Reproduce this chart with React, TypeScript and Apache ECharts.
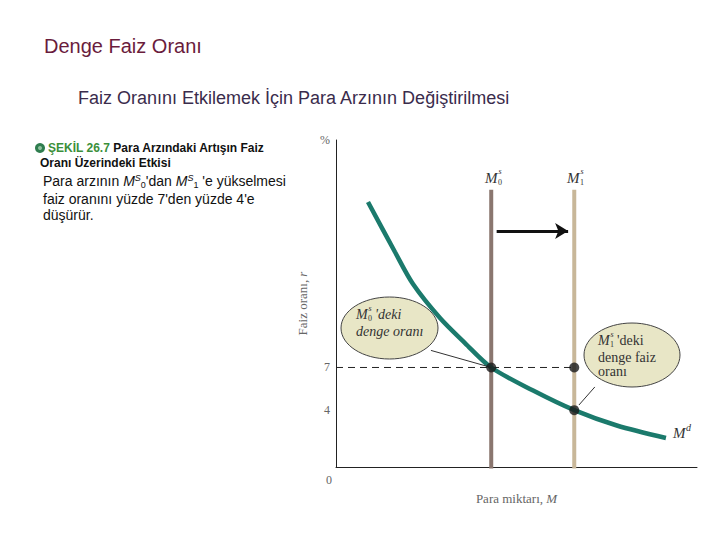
import { useEffect, useRef } from "react";
import * as echarts from "echarts";

// ---- data ----
const demandX = [8.86, 16.34, 21.33, 28.81, 35.73, 43, 54.6, 66, 77.8, 91.4];
const demandY = [18.64, 15.12, 12.87, 10.48, 8.72, 7, 5.38, 4, 2.92, 2.04];
const supplyX = [43, 66]; // M0s, M1s
const supplyTop = 19.5;
const rateBefore = 7;
const rateAfter = 4;
const yTickValues = [4, 7];
const arrowFrom = [44.5, 16.6];
const arrowTo = [64.3, 16.6];
const pointer1 = [[26.3, 8.2], [43, 7]];
const pointer2 = [[71.7, 5.63], [67.3, 4.36]];

const SERIF = "'Liberation Serif', 'DejaVu Serif', serif";
const SANS = "'Liberation Sans', Arial, sans-serif";

function txt(x: number, y: number, text: string, o: any = {}) {
  return {
    type: "text",
    x,
    y,
    z: 10,
    style: {
      text,
      fontFamily: o.ff || SERIF,
      fontSize: o.fs || 14,
      fontStyle: o.it ? "italic" : "normal",
      fontWeight: o.bold ? "bold" : "normal",
      fill: o.fill || "#222",
      align: o.align || "left",
      verticalAlign: "middle",
      rich: o.rich,
    },
  };
}

function mLabel(x: number, y: number, sub: string, sup: string, fs: number, mw: number, italicM = true, fill = "#333") {
  const small = Math.round(fs * 0.55);
  return [
    txt(x, y, "M", { fs, it: italicM, fill }),
    txt(x + mw, y + fs * 0.3, sub, { fs: small, fill }),
    txt(x + mw + 0.5, y - fs * 0.42, sup, { fs: small, it: true, fill }),
  ];
}

export default function App() {
  const ref = useRef<HTMLDivElement>(null);
  useEffect(() => {
    if (!ref.current) return;
    const chart = echarts.init(ref.current, undefined, { renderer: "svg" });
    const demand = demandX.map((x, i) => [x, demandY[i]]);
    const option: any = {
      animation: false,
      grid: { left: 336, top: 140, right: 23, bottom: 73 },
      xAxis: {
        type: "value",
        min: 0,
        max: 100,
        splitLine: { show: false },
        axisTick: { show: false },
        axisLine: { lineStyle: { color: "#222", width: 1 } },
        axisLabel: {
          customValues: [0],
          formatter: () => "0",
          align: "right",
          padding: [0, 4, 0, 0],
          margin: 7,
          fontFamily: SERIF,
          fontSize: 12,
          color: "#666",
        },
        name: "{a|Para miktarı, }{b|M}",
        nameLocation: "middle",
        nameGap: 25,
        nameTextStyle: {
          rich: {
            a: { fontFamily: SERIF, fontSize: 13, color: "#666" },
            b: { fontFamily: SERIF, fontSize: 13, color: "#666", fontStyle: "italic" },
          },
        },
      },
      yAxis: {
        type: "value",
        min: 0,
        max: 23,
        splitLine: { show: false },
        axisTick: { show: false },
        axisLine: { lineStyle: { color: "#222", width: 1 } },
        axisLabel: {
          customValues: [...yTickValues, 23],
          formatter: (v: number) => (v === 23 ? "%" : String(v)),
          margin: 6,
          fontFamily: SERIF,
          fontSize: 12,
          color: "#666",
        },
        name: "{a|Faiz oranı, }{b|r}",
        nameLocation: "middle",
        nameGap: 16,
        nameTextStyle: {
          rich: {
            a: { fontFamily: SERIF, fontSize: 13, color: "#666" },
            b: { fontFamily: SERIF, fontSize: 13, color: "#666", fontStyle: "italic" },
          },
        },
      },
      series: [
        {
          type: "line",
          data: [[0, rateBefore], [supplyX[1], rateBefore]],
          symbol: "none",
          lineStyle: { color: "#222", width: 1, type: [7, 5] },
          z: 2,
          silent: true,
          markLine: {
            silent: true,
            symbol: ["none", "arrow"],
            symbolSize: [12, 13],
            label: { show: false },
            lineStyle: { color: "#111", width: 3, type: "solid" },
            data: [[{ coord: arrowFrom }, { coord: arrowTo }]],
          },
        },
        {
          type: "line",
          data: [[supplyX[0], -0.1], [supplyX[0], supplyTop]],
          symbol: "none",
          clip: false,
          lineStyle: { color: "#8a766f", width: 4 },
          z: 3,
        },
        {
          type: "line",
          data: [[supplyX[1], -0.1], [supplyX[1], supplyTop]],
          symbol: "none",
          clip: false,
          lineStyle: { color: "#c8b799", width: 4 },
          z: 3,
        },
        {
          type: "line",
          data: demand,
          smooth: 0.3,
          symbol: "none",
          lineStyle: { color: "#1b7a6c", width: 4.5 },
          z: 4,
        },
        {
          type: "line",
          data: pointer1,
          symbol: "none",
          lineStyle: { color: "#333", width: 1 },
          z: 5,
        },
        {
          type: "line",
          data: pointer2,
          symbol: "none",
          lineStyle: { color: "#333", width: 1 },
          z: 5,
        },
        {
          type: "scatter",
          data: [[supplyX[0], rateBefore], [supplyX[1], rateBefore], [supplyX[1], rateAfter]],
          symbolSize: 10,
          itemStyle: { color: "#1a1a1a" },
          z: 6,
        },
      ],
      graphic: [
        txt(44, 46, "Denge Faiz Oranı", { ff: SANS, fs: 20, fill: "#6a1c3c" }),
        txt(78, 98, "Faiz Oranını Etkilemek İçin Para Arzının Değiştirilmesi", { ff: SANS, fs: 18, fill: "#3a2c4c" }),
        {
          type: "circle",
          shape: { cx: 40, cy: 148, r: 5 },
          style: { fill: "#2f7d4f" },
        },
        {
          type: "circle",
          shape: { cx: 40, cy: 148, r: 2 },
          style: { fill: "#8fc29f" },
          z: 2,
        },
        txt(48, 148, "{g|ŞEKİL 26.7} Para Arzındaki Artışın Faiz", {
          ff: SANS,
          fs: 12,
          bold: true,
          fill: "#111",
          rich: { g: { fontFamily: SANS, fontSize: 12, fontWeight: "bold", fill: "#3b8f3b", color: "#3b8f3b" } },
        }),
        txt(40, 163, "Oranı Üzerindeki Etkisi", { ff: SANS, fs: 12, bold: true, fill: "#111" }),
        txt(43, 181, "Para arzının {i|M}{sup|S}{sub|0}'dan {i|M}{sup|S}{sub|1} 'e yükselmesi", {
          ff: SANS,
          fs: 14,
          fill: "#111",
          rich: {
            i: { fontFamily: SANS, fontSize: 14, fontStyle: "italic", lineHeight: 16 },
            sup: { fontFamily: SANS, fontSize: 9, fontStyle: "italic", verticalAlign: "top", lineHeight: 10 },
            sub: { fontFamily: SANS, fontSize: 9, verticalAlign: "bottom", lineHeight: 9 },
          },
        }),
        txt(43, 199, "faiz oranını yüzde 7'den yüzde 4'e", { ff: SANS, fs: 14, fill: "#111" }),
        txt(43, 215, "düşürür.", { ff: SANS, fs: 14, fill: "#111" }),

        // top supply labels
        ...mLabel(485, 178, "0", "s", 15, 13),
        ...mLabel(567, 178, "1", "s", 15, 13),
        // demand label
        txt(673, 433, "M", { fs: 15, it: true, fill: "#333" }),
        txt(686, 427, "d", { fs: 10, it: true, fill: "#333" }),

        // ellipse 1
        {
          type: "ellipse",
          shape: { cx: 389.5, cy: 328, rx: 48.5, ry: 31 },
          style: { fill: "#e8e6c6", stroke: "#444", lineWidth: 1 },
          z: 1,
        },
        ...mLabel(356, 314, "0", "s", 14, 12),
        txt(375, 314, "'deki", { fs: 14, it: true, fill: "#333" }),
        txt(356, 331, "denge oranı", { fs: 14, it: true, fill: "#333" }),

        // ellipse 2
        {
          type: "ellipse",
          shape: { cx: 632, cy: 355, rx: 48, ry: 32 },
          style: { fill: "#e8e6c6", stroke: "#444", lineWidth: 1 },
          z: 1,
        },
        ...mLabel(598, 340, "1", "s", 14, 12),
        txt(617, 340, "'deki", { fs: 14, fill: "#333" }),
        txt(598, 357, "denge faiz", { fs: 14, fill: "#333" }),
        txt(598, 371, "oranı", { fs: 14, fill: "#333" }),
      ],
    };
    chart.setOption(option);
    return () => chart.dispose();
  }, []);
  return (
    <div
      ref={ref}
      style={{ position: "fixed", left: 0, top: 0, width: 720, height: 540, background: "#fff" }}
    />
  );
}
